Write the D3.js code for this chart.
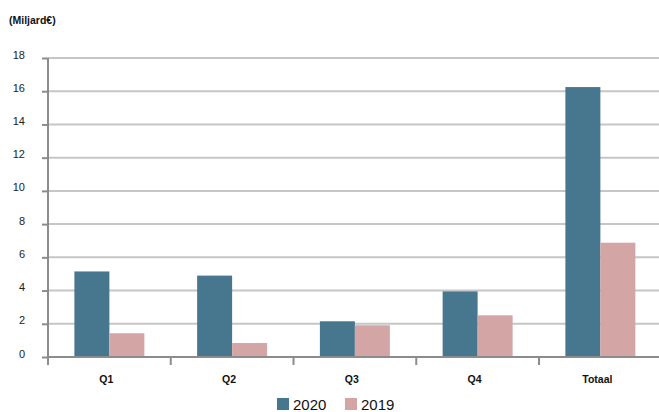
<!DOCTYPE html>
<html>
<head>
<meta charset="utf-8">
<script src="https://cdn.jsdelivr.net/npm/d3@7"></script>
<style>
  body { margin: 0; background: #fff; }
  svg { display: block; font-family: 'Liberation Sans', Arial, sans-serif; }
</style>
</head>
<body>
<div id="chart"></div>
<script>
// data
const categories = ['Q1', 'Q2', 'Q3', 'Q4', 'Totaal'];
const series = ['2020', '2019'];
const values2020 = [5.15, 4.9, 2.15, 3.95, 16.25];
const values2019 = [1.43, 0.84, 1.91, 2.51, 6.88];
const yTicks = [0, 2, 4, 6, 8, 10, 12, 14, 16, 18];
const colors = { '2020': '#46778f', '2019': '#d4a5a5' };

const width = 659;
const height = 412;

const rows = categories.map((c, i) => ({ cat: c, '2020': values2020[i], '2019': values2019[i] }));

const svg = d3.select('#chart')
  .append('svg')
  .attr('width', width)
  .attr('height', height);

const x = d3.scaleBand()
  .domain(categories)
  .range([48, 661.75])
  .padding(0);

const xInner = d3.scaleBand()
  .domain(series)
  .range([0, x.bandwidth()])
  .paddingInner(0)
  .paddingOuter(0.754);

const y = d3.scaleLinear().domain([0, 18]).range([357, 58]);

// unit label
svg.append('text')
  .attr('x', 9)
  .attr('y', 24)
  .attr('font-size', 10.5)
  .attr('font-weight', 'bold')
  .attr('fill', '#111')
  .text('(Miljard€)');

// gridlines
svg.append('g')
  .selectAll('line')
  .data(yTicks.filter(d => d > 0))
  .join('line')
  .attr('x1', 48)
  .attr('x2', 659)
  .attr('y1', d => y(d))
  .attr('y2', d => y(d))
  .attr('stroke', '#c6c6c6')
  .attr('stroke-width', 2);

// bars
const groups = svg.append('g')
  .selectAll('g')
  .data(rows)
  .join('g')
  .attr('transform', d => `translate(${x(d.cat)},0)`);

groups.selectAll('rect')
  .data(d => series.map(s => ({ key: s, value: d[s] })))
  .join('rect')
  .attr('x', d => xInner(d.key))
  .attr('width', xInner.bandwidth())
  .attr('y', d => y(d.value))
  .attr('height', d => y(0) - y(d.value))
  .attr('fill', d => colors[d.key]);

// y axis
const yAxis = svg.append('g')
  .attr('transform', 'translate(48,0)')
  .call(d3.axisLeft(y).tickValues(yTicks).tickSize(6).tickPadding(0));
yAxis.select('.domain').attr('stroke', '#8c8c8c').attr('stroke-width', 2)
  .attr('d', `M0,${y(18)}V${y(0) + 8}`);
yAxis.selectAll('.tick line').attr('stroke', '#8c8c8c').attr('stroke-width', 2);
yAxis.selectAll('.tick text')
  .attr('x', -23)
  .attr('dy', '0.0em')
  .attr('font-size', 11)
  .attr('font-family', "'Liberation Sans', Arial, sans-serif")
  .attr('fill', '#222');

// x axis
const boundaries = categories.map(c => x(c)).concat([x.range()[1]]);
svg.append('line')
  .attr('x1', 48).attr('x2', 659)
  .attr('y1', y(0)).attr('y2', y(0))
  .attr('stroke', '#8c8c8c').attr('stroke-width', 2);
svg.append('g')
  .selectAll('line')
  .data(boundaries.filter(b => b <= 659))
  .join('line')
  .attr('x1', d => d).attr('x2', d => d)
  .attr('y1', y(0)).attr('y2', y(0) + 8)
  .attr('stroke', '#8c8c8c').attr('stroke-width', 2);

svg.append('g')
  .selectAll('text')
  .data(categories)
  .join('text')
  .attr('x', d => x(d) + x.bandwidth() / 2 - 3)
  .attr('y', 383)
  .attr('text-anchor', 'middle')
  .attr('font-size', 10.5)
  .attr('font-weight', 'bold')
  .attr('fill', '#111')
  .text(d => d);

// legend
const legendX = { '2020': 277, '2019': 345 };
const legend = svg.append('g')
  .selectAll('g')
  .data(series)
  .join('g')
  .attr('transform', d => `translate(${legendX[d]},398)`);
legend.append('rect')
  .attr('width', 12)
  .attr('height', 12)
  .attr('fill', d => colors[d]);
legend.append('text')
  .attr('x', 16)
  .attr('y', 12)
  .attr('font-size', 15)
  .attr('fill', '#111')
  .text(d => d);
</script>
</body>
</html>
